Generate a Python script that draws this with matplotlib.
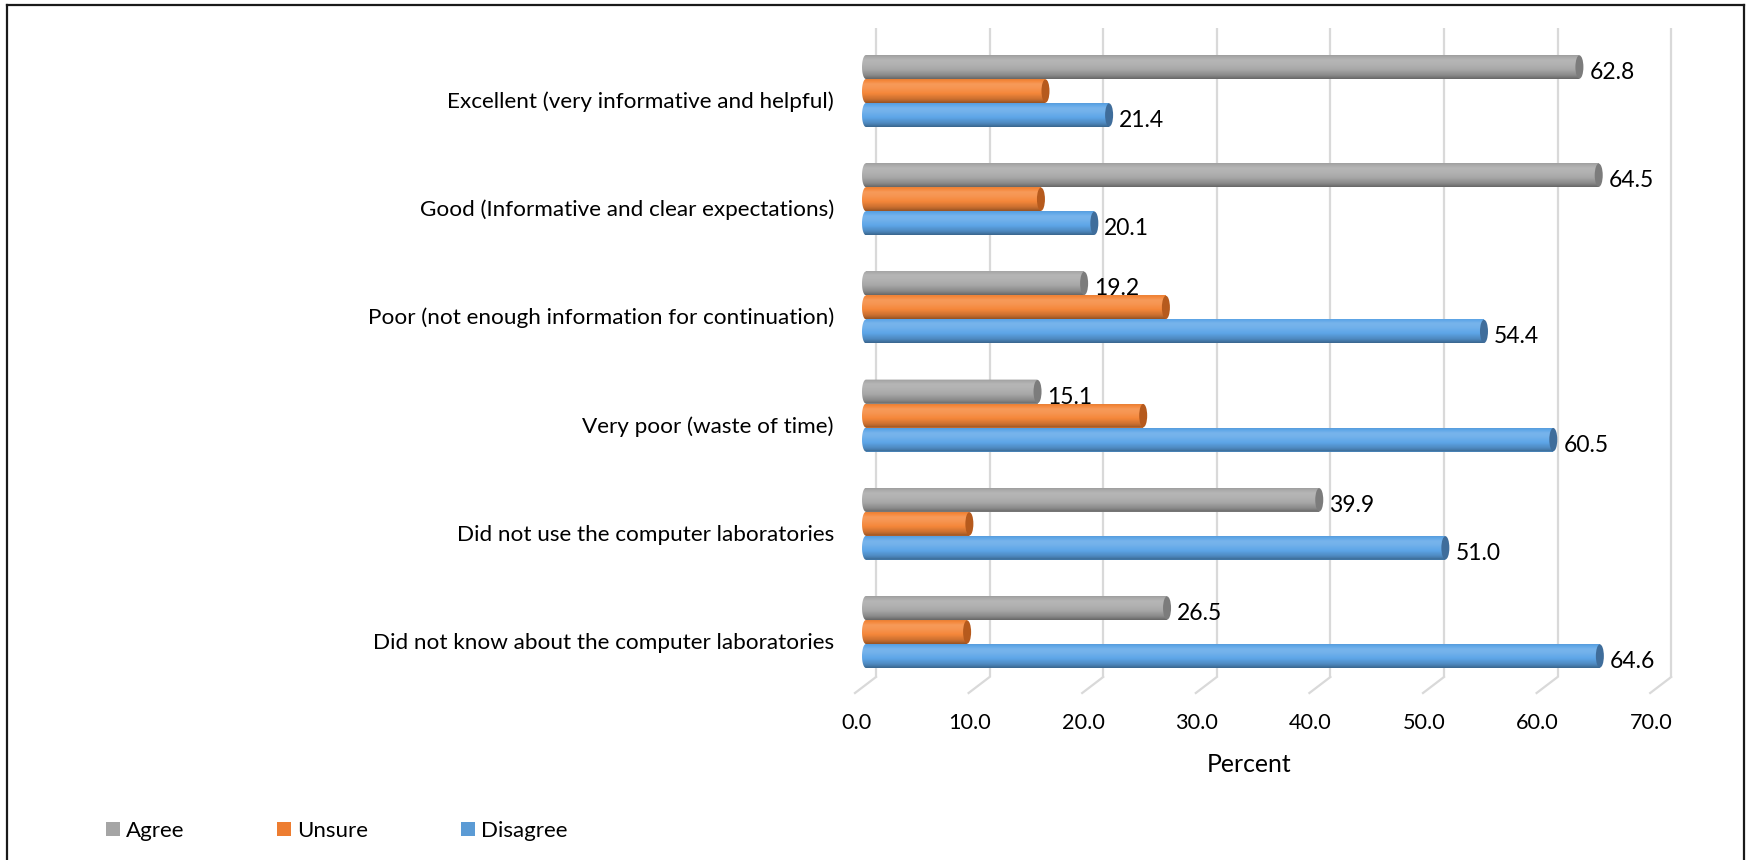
import numpy as np
import matplotlib
matplotlib.use("Agg")
import matplotlib.pyplot as plt
from matplotlib.patches import Patch, Ellipse, Polygon
from matplotlib.lines import Line2D
from matplotlib.colors import to_rgb

plt.rcParams['font.family'] = ['Lato', 'DejaVu Sans']

# survey data, categories listed top to bottom
categories = ["Excellent (very informative and helpful)",
              "Good (Informative and clear expectations)",
              "Poor (not enough information for continuation)",
              "Very poor (waste of time)",
              "Did not use the computer laboratories",
              "Did not know about the computer laboratories"]
series = ["Agree", "Unsure", "Disagree"]
agree = [62.8, 64.5, 19.2, 15.1, 39.9, 26.5]
unsure = [15.8, 15.4, 26.4, 24.4, 9.1, 8.9]
disagree = [21.4, 20.1, 54.4, 60.5, 51.0, 64.6]
x_ticks = [0, 10, 20, 30, 40, 50, 60, 70]

body_colors = ['#A8A8A8', '#F5873A', '#5EA6E8']
cap_colors = ['#7C7C7C', '#B65A1D', '#3F6D9B']
legend_colors = ['#A5A5A5', '#ED7D31', '#5B9BD5']

W, H = 1748, 860
X0, PX = 866.0, 11.36      # pixel of value 0 and pixels per unit
Y0, PY = 91.0, 108.2       # pixel of first group centre and group spacing

fig = plt.figure(figsize=(W / 100, H / 100), dpi=100)
ax = fig.add_axes([0, 0, 1, 1])
ax.set_xlim(-X0 / PX, (W - X0) / PX)
ax.set_ylim((H - Y0) / PY, -Y0 / PY)
ax.axis('off')

def px_x(p):
    return p / PX

def px_y(p):
    return p / PY

# back wall gridlines with the little floor segments
g_top, g_bot, g_front = px_y(28 - Y0), px_y(677 - Y0), px_y(693 - Y0)
for g in x_ticks:
    xb = g + px_x(10)
    xf = g - px_x(11)
    ax.plot([xb, xb], [g_top, g_bot], color='#D9D9D9', lw=1.6, zorder=1,
            solid_capstyle='butt')
    ax.plot([xb, xf], [g_bot, g_front], color='#D9D9D9', lw=1.6, zorder=1)
    ax.text(g - px_x(10), px_y(723 - Y0), f"{g:.1f}", ha='center', va='center',
            fontsize=15.6, color='#000000')

ax.text(px_x(1249 - X0), px_y(765 - Y0), "Percent", ha='center', va='center',
        fontsize=17.8, color='#000000')

h = px_y(24)
a = px_x(4)
prof_t = np.array([0.0, 0.2, 0.35, 0.6, 0.85, 1.0])
prof_f = np.array([0.95, 1.10, 1.08, 1.0, 0.82, 0.62])
t = np.linspace(0, 1, 40)
fac = np.interp(t, prof_t, prof_f)

def shade(col):
    c = np.array(to_rgb(col))
    rows = []
    for f in fac:
        if f >= 1:
            rows.append(c + (1 - c) * (f - 1) * 1.6)
        else:
            rows.append(c * f)
    return np.clip(np.array(rows), 0, 1)[:, None, :]

y = np.arange(len(categories))
offsets = [-h, 0, h]
for vals, off, bc, cc in zip([agree, unsure, disagree], offsets, body_colors, cap_colors):
    yc = y + off
    bars = ax.barh(yc, vals, height=h, color=bc, zorder=3)
    grad = shade(bc)
    for bar, v, c in zip(bars, vals, yc):
        th = np.linspace(np.pi / 2, 3 * np.pi / 2, 30)
        verts = list(zip(a * np.cos(th), c - h / 2 * np.sin(th)))
        verts += [(v, c + h / 2), (v, c - h / 2)]
        shape = Polygon(verts, closed=True, facecolor='none', edgecolor='none')
        ax.add_patch(shape)
        im = ax.imshow(grad, extent=(-a, v, c + h / 2, c - h / 2), aspect='auto',
                       origin='upper', interpolation='bilinear', zorder=4)
        im.set_clip_path(shape)
        ax.add_patch(Ellipse((v, c), 2 * a, h * 0.97, facecolor=cc,
                             edgecolor='none', zorder=5))

# value labels for agree and disagree
for vals, off in [(agree, -h), (disagree, h)]:
    for i, v in enumerate(vals):
        ax.text(v + px_x(10), i + off + px_y(12), f"{v:.1f}", ha='left',
                va='baseline', fontsize=16.5, color='#000000')

for i, name in enumerate(categories):
    ax.text(px_x(834 - X0), i + px_y(17), name, ha='right', va='baseline',
            fontsize=16.2, color='#000000')

handles = [Patch(facecolor=c, edgecolor='none') for c in legend_colors]
fig.legend(handles, series, loc='center left',
           bbox_to_anchor=(106 / W, 1 - 831 / H), ncol=3, frameon=False,
           fontsize=16, handlelength=0.63, handleheight=0.63, handletextpad=0.25,
           columnspacing=4.2, borderpad=0, borderaxespad=0)

# outer frame
for xs, ys in [([7, 7], [5, H]), ([7, 1744], [5, 5]), ([1744, 1744], [5, H])]:
    fig.add_artist(Line2D([p / W for p in xs], [1 - p / H for p in ys],
                          transform=fig.transFigure, color='#1A1A1A', lw=1.6))

fig.savefig("out.png", dpi=100)
